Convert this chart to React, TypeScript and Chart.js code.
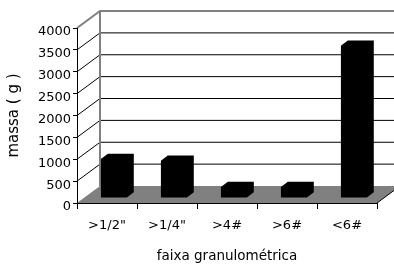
import React, { useEffect, useRef } from "react";
import { Chart, registerables } from "chart.js";

Chart.register(...registerables);

const categories = ['>1/2"', '>1/4"', ">4#", ">6#", "<6#"];
const massValues = [890, 850, 250, 250, 3480];
const yMin = 0;
const yMax = 4000;
const yStep = 500;
const xTitle = "faixa granulométrica";
const yTitle = "massa ( g )";

const DX = 23;
const DY = -17;
const BAR_FRONT = 0.3;
const BAR_BACK = 0.6;
const FONT = "DejaVu Sans";

const threeD = {
  id: "threeD",
  beforeDraw(chart: any) {
    const { ctx, chartArea, scales } = chart;
    const { left, right, bottom } = chartArea;
    const y = scales.y;
    ctx.save();
    // floor
    ctx.fillStyle = "#808080";
    ctx.beginPath();
    ctx.moveTo(left, bottom);
    ctx.lineTo(right, bottom);
    ctx.lineTo(right + DX, bottom + DY);
    ctx.lineTo(left + DX, bottom + DY);
    ctx.closePath();
    ctx.fill();
    ctx.strokeStyle = "#000";
    ctx.lineWidth = 1;
    ctx.beginPath();
    ctx.moveTo(right, bottom);
    ctx.lineTo(right + DX, bottom + DY);
    ctx.stroke();
    // gridlines on back wall and side
    y.ticks.forEach((t: any) => {
      const v = t.value;
      if (v <= yMin) return;
      const py = y.getPixelForValue(v);
      const isTop = v >= yMax;
      ctx.strokeStyle = isTop ? "#808080" : "#000";
      ctx.lineWidth = isTop ? 2 : 1;
      ctx.beginPath();
      ctx.moveTo(left, py);
      ctx.lineTo(left + DX, py + DY);
      ctx.lineTo(chart.width + 10, py + DY);
      ctx.stroke();
    });
    // back wall left edge
    const pTop = y.getPixelForValue(yMax);
    ctx.strokeStyle = "#808080";
    ctx.lineWidth = 2;
    ctx.beginPath();
    ctx.moveTo(left + DX, pTop + DY);
    ctx.lineTo(left + DX, bottom + DY);
    ctx.stroke();
    ctx.restore();
  },
  afterDatasetsDraw(chart: any) {
    const { ctx } = chart;
    const meta = chart.getDatasetMeta(0);
    ctx.save();
    ctx.fillStyle = "#000";
    meta.data.forEach((bar: any) => {
      const { x, y, base, width } = bar.getProps(["x", "y", "base", "width"], true);
      const fx = BAR_FRONT * DX;
      const fy = BAR_FRONT * DY;
      const bx = (BAR_BACK - BAR_FRONT) * DX;
      const by = (BAR_BACK - BAR_FRONT) * DY;
      const xl = x - width / 2 + fx;
      const xr = x + width / 2 + fx;
      const yt = y + fy;
      const yb = base + fy;
      ctx.beginPath();
      ctx.moveTo(xl, yb);
      ctx.lineTo(xl, yt);
      ctx.lineTo(xl + bx, yt + by);
      ctx.lineTo(xr + bx, yt + by);
      ctx.lineTo(xr + bx, yb + by);
      ctx.lineTo(xr, yb);
      ctx.closePath();
      ctx.fill();
    });
    ctx.restore();
  },
};

export default function App() {
  const ref = useRef<HTMLCanvasElement | null>(null);
  useEffect(() => {
    if (!ref.current) return;
    Chart.defaults.color = "#000";
    const chart = new Chart(ref.current, {
      type: "bar",
      data: {
        labels: categories,
        datasets: [
          {
            data: massValues,
            backgroundColor: "rgba(0,0,0,0)",
            borderWidth: 0,
            barPercentage: 0.433,
            categoryPercentage: 1,
          },
        ],
      },
      options: {
        responsive: false,
        animation: false,
        devicePixelRatio: 1,
        layout: { padding: { left: 1, right: 17, top: 28, bottom: 0 } },
        plugins: { legend: { display: false }, tooltip: { enabled: false } },
        scales: {
          x: {
            offset: true,
            grid: { display: true, drawOnChartArea: false, offset: true, tickLength: 6, color: "#000" },
            border: { display: true, color: "#000", width: 1 },
            ticks: { font: { family: FONT, size: 13 }, color: "#000", padding: 9, maxRotation: 0 },
            title: { display: true, text: xTitle, font: { family: FONT, size: 13.5 }, color: "#000", padding: { top: 4, bottom: 2 } },
            afterFit: (s: any) => {
              s.height = 64;
            },
          },
          y: {
            min: yMin,
            max: yMax,
            ticks: {
              stepSize: yStep,
              font: { family: FONT, size: 13 },
              color: "#000",
              padding: 2,
              labelOffset: 4,
              callback: (v: any) => String(v),
            },
            grid: { display: true, drawOnChartArea: false, tickLength: 4, color: "#000" },
            border: { display: true, color: "#000", width: 1 },
            title: { display: true, text: yTitle, font: { family: FONT, size: 15 }, color: "#000", padding: { top: 4, bottom: 4 } },
            afterFit: (s: any) => {
              s.width = 76;
            },
          },
        },
      },
      plugins: [threeD],
    });
    return () => chart.destroy();
  }, []);
  return (
    <div style={{ position: "fixed", left: 0, top: 0, width: 394, height: 267, background: "#fff" }}>
      <canvas ref={ref} width={394} height={267} />
    </div>
  );
}
